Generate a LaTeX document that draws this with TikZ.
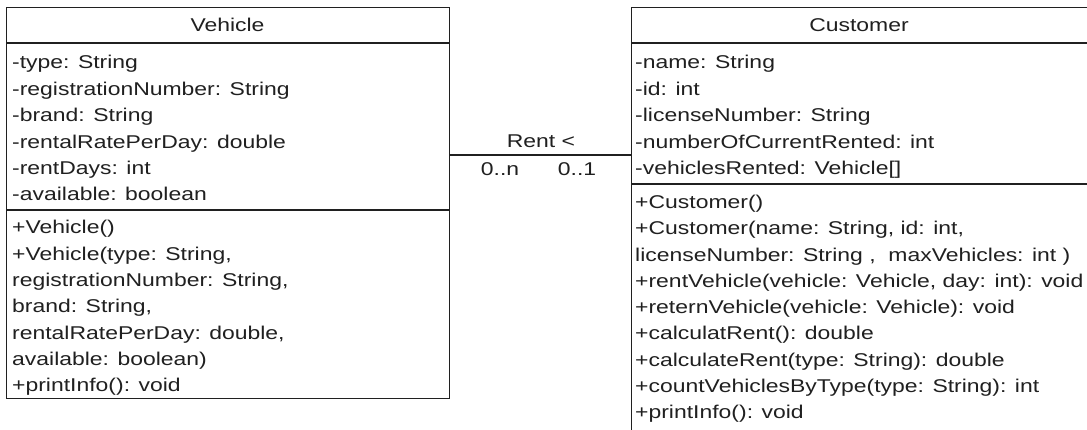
\documentclass[tikz,border=0pt]{standalone}
\usepackage{fontspec}
\setmainfont{Liberation Sans}[FakeStretch=1.24]
\definecolor{umlink}{RGB}{32,32,32}

\begin{document}
\begin{tikzpicture}[x=1pt,y=-1pt,
   every node/.style={text=umlink,font=\fontsize{18.5}{22}\selectfont},
   umlbox/.style={draw=umlink,line width=1.3pt,inner sep=0pt,anchor=north west},
   rule/.style={draw=umlink,line width=1.3pt},
   member/.style={anchor=base west,inner sep=0pt},
   title/.style={anchor=base,inner sep=0pt}]
   \useasboundingbox (0,0) rectangle (1087,430);
   \clip (0,0) rectangle (1087,430);
   \fill[white] (0,0) rectangle (1087,430);
 %
   \node[umlbox,minimum width=443,minimum height=391] (vehicle)  at (  6,  7) {};
   \node[umlbox,minimum width=460,minimum height=440] (customer) at (631,  7) {};
   \draw[rule] (  6, 43) -- (449, 43);
   \draw[rule] (  6,210) -- (449,210);
   \draw[rule] (631, 43) -- (1091, 43);
   \draw[rule] (631,184) -- (1091,184);
 %
   \coordinate (rentrow) at (540,155);
   \draw[rule] (vehicle.east |- rentrow) -- (customer.west |- rentrow);
   \node[title] (rentlbl) at (541,147.5) {Rent <};
   \node[title] (multv)   at (500,176.0) {0..n};
   \node[title] (multc)   at (577,176.0) {0..1};
 %
   \node[title]  (vtitle) at (227.5, 31.5) {Vehicle};
   \node[member] (va1)    at ( 12, 69.0) {-type: String};
   \node[member] (va2)    at ( 12, 95.4) {-registrationNumber: String};
   \node[member] (va3)    at ( 12,121.8) {-brand: String};
   \node[member] (va4)    at ( 12,148.2) {-rentalRatePerDay: double};
   \node[member] (va5)    at ( 12,174.6) {-rentDays: int};
   \node[member] (va6)    at ( 12,201.0) {-available: boolean};
   \node[member] (vm1)    at ( 12,234.0) {+Vehicle()};
   \node[member] (vm2)    at ( 12,260.3) {+Vehicle(type: String,};
   \node[member] (vm3)    at ( 12,286.6) {registrationNumber: String,};
   \node[member] (vm4)    at ( 12,312.9) {brand: String,};
   \node[member] (vm5)    at ( 12,339.2) {rentalRatePerDay: double,};
   \node[member] (vm6)    at ( 12,365.5) {available: boolean)};
   \node[member] (vm7)    at ( 12,391.8) {+printInfo(): void};
 %
   \node[title]  (ctitle) at (859, 31.5) {Customer};
   \node[member] (ca1)    at (635, 69.0) {-name: String};
   \node[member] (ca2)    at (635, 95.4) {-id: int};
   \node[member] (ca3)    at (635,121.8) {-licenseNumber: String};
   \node[member] (ca4)    at (635,148.2) {-numberOfCurrentRented: int};
   \node[member] (ca5)    at (635,174.6) {-vehiclesRented: Vehicle[]};
   \node[member] (cm1)    at (635,208.5) {+Customer()};
   \node[member] (cm2)    at (635,234.8) {+Customer(name: String, id: int,};
   \node[member] (cm3)    at (635,261.1) {licenseNumber: String ,\ \ maxVehicles: int )};
   \node[member] (cm4)    at (635,287.4) {+rentVehicle(vehicle: Vehicle, day: int): void};
   \node[member] (cm5)    at (635,313.7) {+reternVehicle(vehicle: Vehicle): void};
   \node[member] (cm6)    at (635,340.0) {+calculatRent(): double};
   \node[member] (cm7)    at (635,366.3) {+calculateRent(type: String): double};
   \node[member] (cm8)    at (635,392.6) {+countVehiclesByType(type: String): int};
   \node[member] (cm9)    at (635,418.9) {+printInfo(): void};
\end{tikzpicture}
\end{document}
